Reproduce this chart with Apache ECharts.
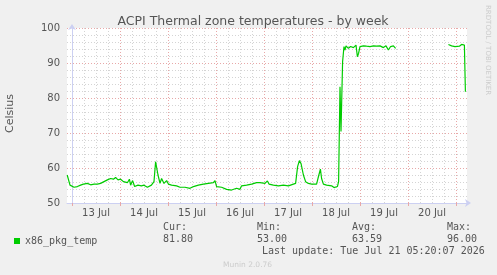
<!DOCTYPE html>
<html>
<head>
<meta charset="utf-8">
<script src="https://cdn.jsdelivr.net/npm/echarts@6/dist/echarts.min.js"></script>
<style>
    html, body { margin: 0; padding: 0; background: #f0f0f0; }
    #chart { width: 497px; height: 275px; }
</style>
</head>
<body>
<div id="chart"></div>
<script>
    // hours counted from 13 Jul 00:00
    var hours = [-2.4, -1.0, 1.0, 2.7, 4.3, 5.7, 6.3, 7.7, 9.3, 11.0, 12.7, 14.3, 16.0, 17.7, 19.3, 20.7, 21.8, 23.0,
        24.3, 25.7, 27.7, 28.7, 29.3, 30.3, 31.3, 33.0, 34.7, 36.0, 37.7, 39.7, 41.0, 41.8, 43.0, 44.0, 44.8, 46.0,
        47.3, 48.2, 49.8, 52.3, 54.0, 54.8, 56.5, 59.0, 60.7, 63.2, 65.7, 68.2, 70.7, 71.5, 72.3, 74.8, 77.3, 79.8,
        82.3, 84.0, 84.8, 87.3, 89.8, 92.3, 94.0, 96.5, 97.7, 98.5, 100.7, 103.2, 105.7, 108.2, 110.7, 111.8, 112.8,
        113.7, 114.5, 115.7, 116.8, 118.2, 119.8, 122.3, 123.2, 124.2, 124.8, 125.7, 127.3, 129.8, 131.0, 132.7,
        133.3, 134.0, 134.5, 135.3, 136.0, 136.5, 137.0, 138.2, 139.3, 140.7, 142.0, 142.7, 143.3, 144.0, 145.7,
        147.3, 149.0, 150.7, 152.3, 154.0, 155.7, 157.0, 158.2, 159.3, 160.7, 161.8, 162.5,
        188.2, 189.8, 191.5, 192.3, 193.7, 194.8, 195.7, 196.2, 196.7];
    var temps = [58.0, 55.1, 54.5, 54.7, 55.1, 55.4, 54.9, 55.6, 55.2, 55.4, 55.4, 55.6, 56.1, 56.6, 57.0, 56.8, 57.3, 56.6,
        56.8, 56.1, 55.8, 56.8, 55.1, 56.4, 54.7, 55.1, 54.9, 55.1, 54.5, 55.1, 56.1, 61.8, 58.0, 55.6, 57.0, 55.6,
        56.4, 55.4, 55.1, 54.9, 54.5, 54.9, 54.5, 54.2, 54.7, 55.1, 55.4, 55.6, 55.8, 56.4, 54.7, 54.5, 53.9, 53.7,
        54.2, 53.9, 54.9, 55.1, 55.4, 55.8, 55.8, 55.6, 56.3, 55.4, 55.1, 54.9, 55.1, 54.9, 55.4, 55.6, 60.4,
        62.1, 61.3, 58.0, 56.1, 55.6, 55.4, 55.4, 57.5, 59.7, 57.0, 55.4, 55.1, 54.9, 54.4, 54.7,
        56.1, 83.2, 70.4, 90.4, 94.7, 93.7, 94.9, 94.2, 94.7, 94.4, 95.1, 91.8, 92.8, 94.7, 94.9,
        94.8, 94.7, 94.9, 94.8, 94.9, 94.4, 94.9, 93.7, 94.7, 94.9, 94.2, null,
        95.3, 94.9, 94.7, 95.1, 94.8, 95.3, 94.9, 95.1, 81.8];

    var dayLabels = ['13 Jul', '14 Jul', '15 Jul', '16 Jul', '17 Jul', '18 Jul', '19 Jul', '20 Jul'];
    var dayStarts = [0, 24, 48, 72, 96, 120, 144, 168, 192];
    var labelAt = [12, 36, 60, 84, 108, 132, 156, 180];

    var seriesName = 'x86_pkg_temp';
    var statNames = ['Cur:', 'Min:', 'Avg:', 'Max:'];
    var statValues = ['81.80', '53.00', '63.59', '96.00'];
    var lastUpdate = 'Last update: Tue Jul 21 05:20:07 2026';

    // 6 hour grid lines that are not day lines
    var quarterLines = [];
    for (var q = 0; q <= 192; q += 6) {
        if (q % 24 != 0) quarterLines.push(q);
    }

    var points = [];
    for (var i = 0; i < hours.length; i++) {
        points.push([hours[i], temps[i]]);
    }

    var mono = 'DejaVu Sans Mono';
    var sans = 'DejaVu Sans';
    var statX = [163, 257, 352, 447];
    var graphics = [
        {type: 'text', left: 5, top: 94, rotation: Math.PI / 2, originX: 0, originY: 0,
            style: {text: 'Celsius', font: '11px ' + sans, fill: '#555'}},
        {type: 'text', x: 491, y: 5, rotation: -Math.PI / 2,
            style: {text: 'RRDTOOL / TOBI OETIKER', font: '7px ' + sans, fill: '#ccc'}},
        {type: 'text', x: 262, y: 246,
            style: {text: lastUpdate, font: '10px ' + mono, fill: '#555'}},
        {type: 'text', x: 223, y: 261,
            style: {text: 'Munin 2.0.76', font: '7.5px ' + sans, fill: '#ccc'}}
    ];
    for (var s = 0; s < statNames.length; s++) {
        graphics.push({type: 'text', x: statX[s], y: 222,
            style: {text: statNames[s], font: '10px ' + mono, fill: '#555'}});
        graphics.push({type: 'text', x: statX[s], y: 234,
            style: {text: statValues[s], font: '10px ' + mono, fill: '#555'}});
    }

    var chart = echarts.init(document.getElementById('chart'));
    var option = {
        backgroundColor: '#f0f0f0',
        animation: false,
        title: {
            text: 'ACPI Thermal zone temperatures - by week',
            left: 248,
            top: 10,
            textAlign: 'center',
            textStyle: {fontFamily: sans, fontSize: 12.5, fontWeight: 'normal', color: '#555'}
        },
        legend: {
            left: 9,
            top: 231,
            icon: 'rect',
            itemWidth: 6,
            itemHeight: 6,
            data: [seriesName],
            textStyle: {fontFamily: mono, fontSize: 10, color: '#555'}
        },
        grid: {
            left: 67, top: 28, width: 400, height: 175,
            show: true, backgroundColor: '#fff', borderWidth: 0
        },
        xAxis: [
            {
                type: 'value', min: -2.5, max: 197.5, position: 'bottom',
                axisLine: {show: true, lineStyle: {color: '#ccd0f2', width: 1},
                    symbol: ['none', 'arrow'], symbolSize: [6, 6], symbolOffset: [0, 4]},
                axisTick: {show: true, length: 3, customValues: dayStarts, lineStyle: {color: '#e8a8a8'}},
                axisLabel: {
                    customValues: labelAt, margin: 5,
                    fontFamily: sans, fontSize: 10, color: '#555',
                    formatter: function (v) { return dayLabels[Math.round((v - 12) / 24)]; }
                },
                splitLine: {show: true, lineStyle: {color: '#e8a8a8', width: 1, type: [1, 2]}}
            },
            {
                type: 'value', min: -2.5, max: 197.5, position: 'top',
                axisLine: {show: false},
                axisTick: {show: false, customValues: quarterLines},
                axisLabel: {show: false},
                splitLine: {show: true, lineStyle: {color: '#d4d4d4', width: 1, type: [1, 2]}}
            }
        ],
        yAxis: {
            type: 'value', min: 50, max: 100, interval: 10,
            axisLine: {show: true, lineStyle: {color: '#ccd0f2', width: 1},
                symbol: ['none', 'arrow'], symbolSize: [6, 6], symbolOffset: [0, 4]},
            axisTick: {show: false},
            axisLabel: {margin: 7, fontFamily: sans, fontSize: 10, color: '#555'},
            splitLine: {show: true, lineStyle: {color: '#e8a8a8', width: 1, type: [1, 2]}},
            minorTick: {show: false, splitNumber: 5},
            minorSplitLine: {show: true, lineStyle: {color: '#d4d4d4', width: 1, type: [1, 2]}}
        },
        series: [
            {
                name: seriesName,
                type: 'line',
                xAxisIndex: 0,
                data: points,
                showSymbol: false,
                connectNulls: false,
                color: '#00cc00',
                lineStyle: {color: '#00cc00', width: 1.2},
                z: 5
            }
        ],
        graphic: graphics
    };
    chart.setOption(option);
</script>
</body>
</html>
